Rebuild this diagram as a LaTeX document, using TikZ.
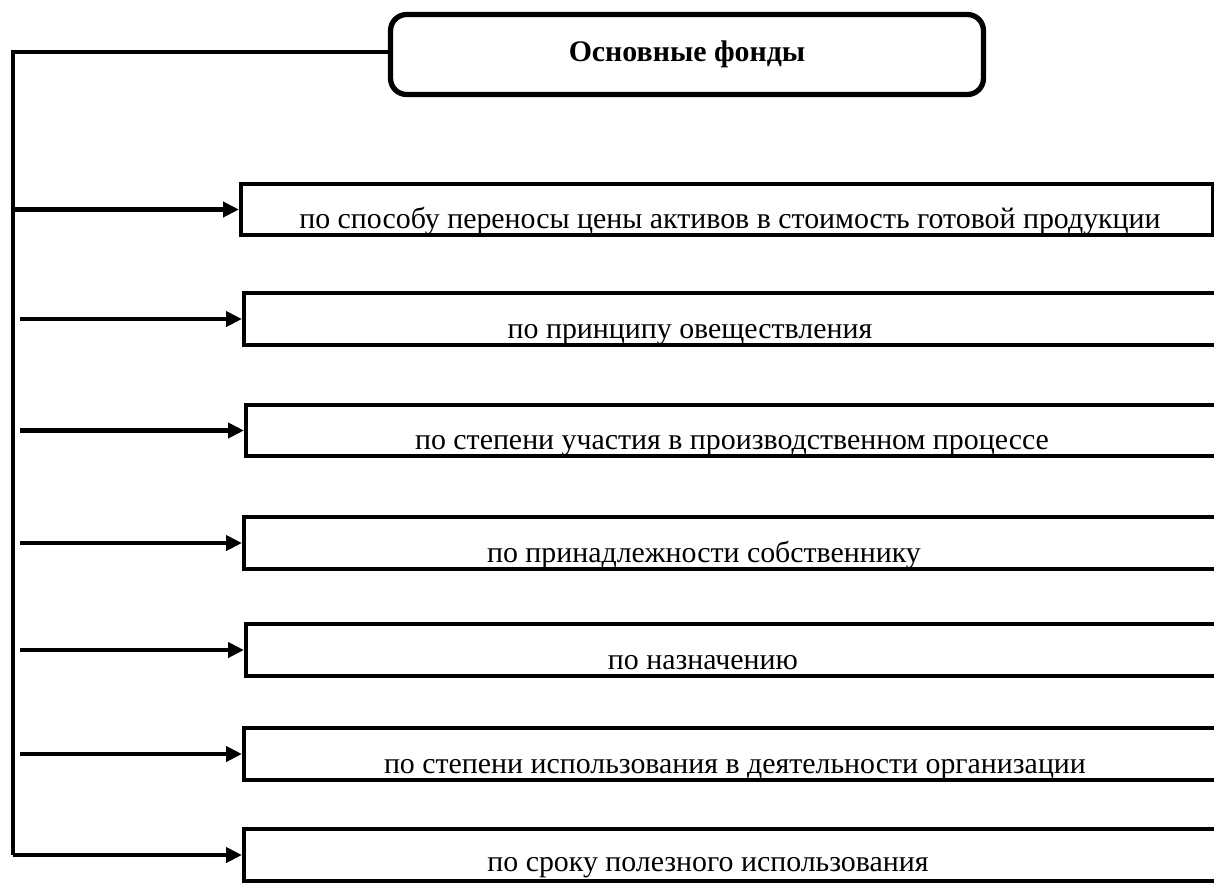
\documentclass[tikz,border=0pt]{standalone}
\usepackage{fontspec}
\setmainfont{Liberation Serif}
\usetikzlibrary{arrows.meta}

\tikzset{
  kind/.style={draw, line width=2.4pt, anchor=west, minimum height=1.03cm, inner sep=0pt},
  kindtext/.style={anchor=base, font=\fontsize{17}{20}\selectfont},
  link/.style={line width=2.4pt},
  arr/.style={-{Triangle[length=0.32cm,width=0.3cm]}, line width=2.4pt},
}

\begin{document}
\begin{tikzpicture}[x=0.02cm, y=-0.02cm]
\useasboundingbox (0,0) rectangle (1214,883);
% main box
\node [draw, rounded corners=0.32cm, line width=3pt, minimum width=11.86cm, minimum height=1.6cm, font=\bfseries\fontsize{17}{20}\selectfont] (fonds) at (687,54.5) {Основные фонды};
% boxes
\node [kind, minimum width=19.44cm] (b1) at (239,209.5) {};
\node [kind, minimum width=20cm] (b2) at (242,319) {};
\node [kind, minimum width=20cm] (b3) at (244,430.5) {};
\node [kind, minimum width=20cm] (b4) at (242,543) {};
\node [kind, minimum width=20cm] (b5) at (244,650) {};
\node [kind, minimum width=20cm] (b6) at (242,754) {};
\node [kind, minimum width=20cm] (b7) at (242,855) {};
% texts
\node [kindtext] (t1) at (730,228) {по способу переносы цены активов в стоимость готовой продукции};
\node [kindtext] (t2) at (690,338) {по принципу овеществления};
\node [kindtext] (t3) at (732,449) {по степени участия в производственном процессе};
\node [kindtext] (t4) at (704,562) {по принадлежности собственнику};
\node [kindtext] (t5) at (703,669) {по назначению};
\node [kindtext] (t6) at (735,773) {по степени использования в деятельности организации};
\node [kindtext] (t7) at (708,871) {по сроку полезного использования};
% left line
\coordinate (top) at (13,52);
\coordinate (bot) at (13,855);
\coordinate (s1) at (13,209.5);
\coordinate (s2) at (20,319);
\coordinate (s3) at (20,430.5);
\coordinate (s4) at (20,543);
\coordinate (s5) at (20,650);
\coordinate (s6) at (20,754);
\draw [link] (fonds.west |- top) -- (top) -- (bot);
\draw [arr] (bot) -- (b7);
\draw [arr] (s1) -- (b1);
\draw [arr] (s2) -- (b2);
\draw [arr] (s3) -- (b3);
\draw [arr] (s4) -- (b4);
\draw [arr] (s5) -- (b5);
\draw [arr] (s6) -- (b6);
\end{tikzpicture}
\end{document}
